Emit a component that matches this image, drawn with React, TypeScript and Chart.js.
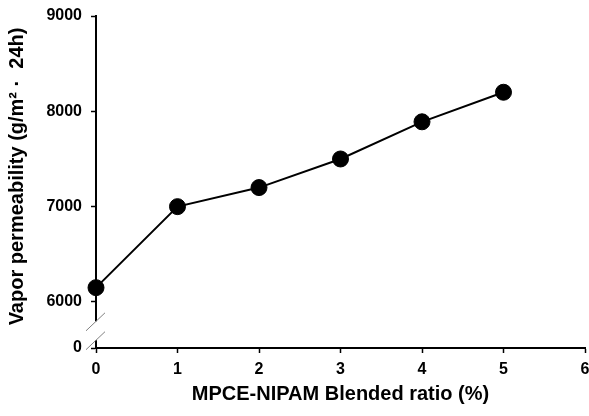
import React, { useEffect, useRef } from "react";
import { Chart, registerables } from "chart.js";

Chart.register(...registerables);

// Data
const blendRatios = [0, 1, 2, 3, 4, 5];
const vaporPermeability = [6150, 7000, 7200, 7500, 7890, 8200];

// Axis ticks (broken y axis: the lowest tick stands for 0)
const Y_BREAK_VALUE = 5517;
const yTickValues = [Y_BREAK_VALUE, 6000, 7000, 8000, 9000];
const yTickLabels = ["0", "6000", "7000", "8000", "9000"];
const xTickValues = [0, 1, 2, 3, 4, 5, 6];

const X_TITLE = "MPCE-NIPAM Blended ratio (%)";
const Y_TITLE = "  Vapor permeability (g/m² ·  24h)";

const FONT = "'Liberation Sans', Arial, Helvetica, sans-serif";

const breakPlugin = {
  id: "axisBreak",
  afterDraw(chart: any) {
    const ctx = chart.ctx;
    const y = chart.scales.y;
    const x0 = chart.chartArea.left;
    const p6 = y.getPixelForValue(yTickValues[1]);
    const p0 = y.bottom;
    const b1 = p6 + (p0 - p6) * 0.42;
    const b2 = p6 + (p0 - p6) * 0.83;
    ctx.save();
    ctx.fillStyle = "#ffffff";
    ctx.fillRect(x0 - 2, b1, 4, b2 - b1);
    ctx.strokeStyle = "#808080";
    ctx.lineWidth = 1;
    for (const b of [b1, b2]) {
      ctx.beginPath();
      ctx.moveTo(x0 - 10, b + 9.5);
      ctx.lineTo(x0 + 9, b - 8.5);
      ctx.stroke();
    }
    ctx.restore();
  },
};

export default function App() {
  const ref = useRef<HTMLCanvasElement | null>(null);

  useEffect(() => {
    if (!ref.current) return;
    const chart = new Chart(ref.current, {
      type: "line",
      data: {
        datasets: [
          {
            data: blendRatios.map((x, i) => ({ x, y: vaporPermeability[i] })),
            borderColor: "#000000",
            backgroundColor: "#000000",
            borderWidth: 2,
            pointRadius: 8,
            pointBorderWidth: 1,
            pointBackgroundColor: "#000000",
            pointBorderColor: "#000000",
            tension: 0,
            clip: false as any,
          },
        ],
      },
      options: {
        animation: false,
        responsive: false,
        layout: { autoPadding: false, padding: { top: 16, right: 4, left: 0, bottom: 0 } },
        plugins: {
          legend: { display: false },
          tooltip: { enabled: false },
        },
        scales: {
          x: {
            type: "linear",
            min: 0,
            max: 6,
            afterBuildTicks: (scale: any) => {
              scale.ticks = xTickValues.map((v) => ({ value: v }));
            },
            afterFit: (scale: any) => {
              scale.height = 68;
              scale.paddingLeft = 0;
              scale.paddingRight = 0;
            },
            grid: {
              drawOnChartArea: false,
              drawTicks: true,
              tickLength: 5,
              tickColor: "#000000",
              tickWidth: 1.5,
            },
            border: { display: true, color: "#000000", width: 2 },
            ticks: {
              color: "#000000",
              padding: 7,
              font: { family: FONT, size: 16, weight: "bold" },
              maxRotation: 0,
            },
            title: {
              display: true,
              text: X_TITLE,
              color: "#000000",
              font: { family: FONT, size: 20, weight: "bold" },
              padding: { top: 0, bottom: 10 },
            },
          },
          y: {
            type: "linear",
            min: Y_BREAK_VALUE,
            max: 9000,
            afterBuildTicks: (scale: any) => {
              scale.ticks = yTickValues.map((v) => ({ value: v }));
            },
            afterFit: (scale: any) => {
              scale.width = 96;
              scale.paddingTop = 0;
              scale.paddingBottom = 0;
            },
            grid: {
              drawOnChartArea: false,
              drawTicks: true,
              tickLength: 5,
              tickColor: "#000000",
              tickWidth: 1.5,
            },
            border: { display: true, color: "#000000", width: 2 },
            ticks: {
              color: "#000000",
              padding: 9,
              font: { family: FONT, size: 16, weight: "bold" },
              callback: (_v: any, i: number) => yTickLabels[i],
            },
            title: {
              display: true,
              text: Y_TITLE,
              color: "#000000",
              font: { family: FONT, size: 20, weight: "bold" },
              padding: { top: 5, bottom: 0 },
            },
          },
        },
      },
      plugins: [breakPlugin],
    });
    return () => chart.destroy();
  }, []);

  return (
    <div
      style={{
        position: "fixed",
        left: 0,
        top: 0,
        width: 589,
        height: 416,
        background: "#ffffff",
      }}
    >
      <canvas ref={ref} width={589} height={416} />
    </div>
  );
}
